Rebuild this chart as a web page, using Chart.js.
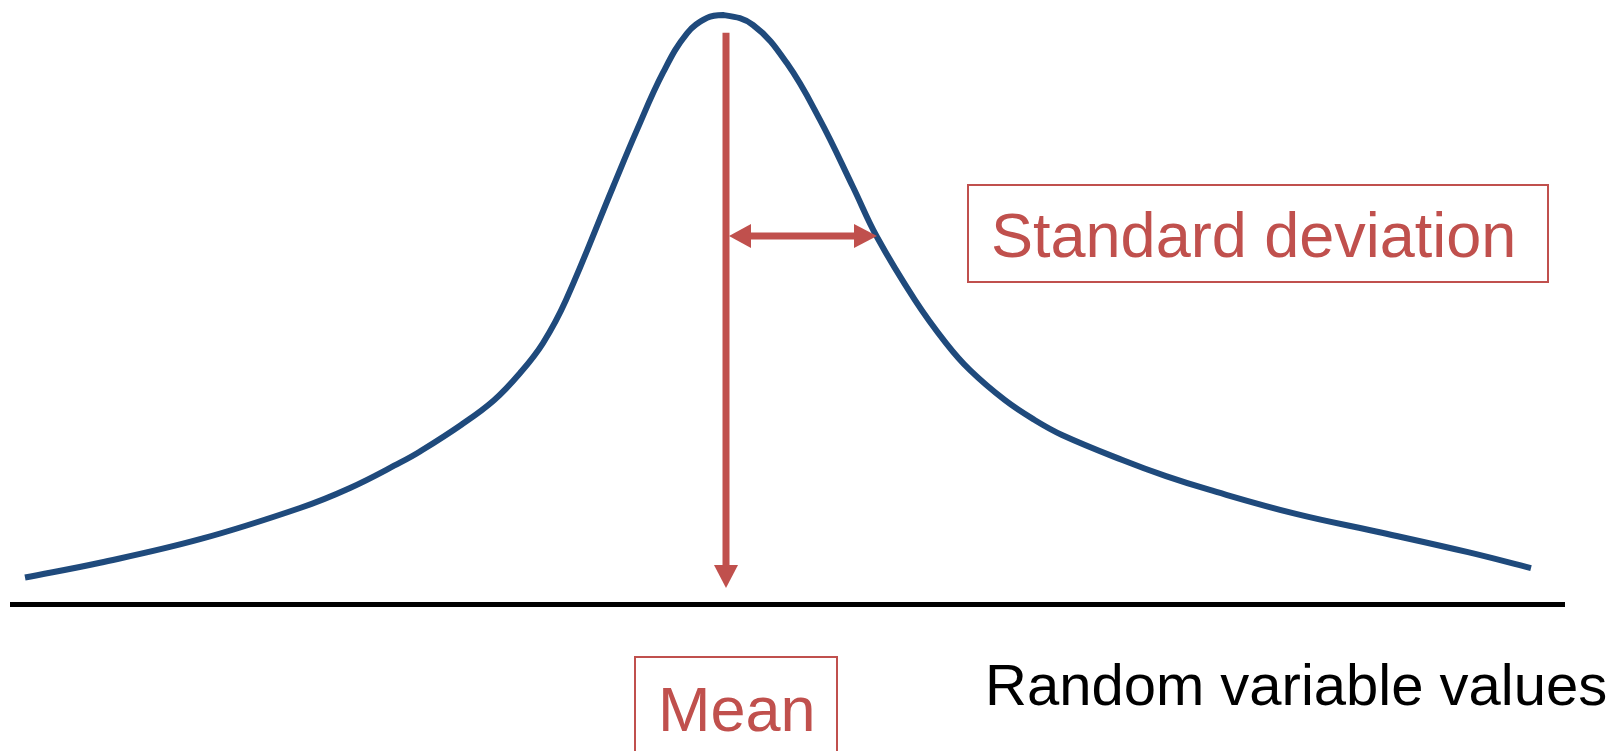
<!DOCTYPE html>
<html>
<head>
<meta charset="utf-8">
<script src="https://cdn.jsdelivr.net/npm/chart.js@4.4.1/dist/chart.umd.min.js"></script>
<style>
  html, body { margin: 0; padding: 0; background: #fff; }
  #wrap { width: 1624px; height: 751px; }
</style>
</head>
<body>
<div id="wrap"><canvas id="chart" width="1624" height="751"></canvas></div>
<script>
// --- DATA ---
// x: random variable value, mean at 0; y: relative density, peak = 1
const curveX = [-7.01, -6.26, -5.26, -4.26, -3.76, -3.26, -3.06, -2.65, -2.32, -2.06, -1.83, -1.60, -1.13, -0.89, -0.63, -0.39, -0.19, -0.03,
                0.27, 0.61, 0.94, 1.27, 1.51, 1.89, 2.20, 2.44, 2.79, 3.09, 3.36, 3.97, 4.40, 4.83, 5.70, 6.56, 7.42, 8.05];
const curveY = [0.045, 0.070, 0.110, 0.163, 0.197, 0.240, 0.259, 0.304, 0.346, 0.392, 0.443, 0.516, 0.708, 0.805, 0.902, 0.969, 0.995, 1.000,
                0.983, 0.918, 0.822, 0.708, 0.623, 0.516, 0.443, 0.397, 0.346, 0.312, 0.287, 0.244, 0.217, 0.194, 0.153, 0.121, 0.088, 0.061];
const xRange = [-7.14, 8.38];
const meanValue = 0;
const sdValue = 1.51;   // where the arrow meets the curve
const sdLevel = 0.625;  // height of the standard deviation arrow
const meanLabel = 'Mean';
const sdLabel = 'Standard deviation';
const axisLabel = 'Random variable values';

const RED = '#C0504D';
const BLUE = '#1F4A7C';
const FONT = '"Liberation Sans", Arial, sans-serif';

function arrowHead(ctx, tipX, tipY, dx, dy, len, half) {
  // dx,dy: unit direction the arrow points to
  const bx = tipX - dx * len, by = tipY - dy * len;
  ctx.beginPath();
  ctx.moveTo(tipX, tipY);
  ctx.lineTo(bx - dy * half, by + dx * half);
  ctx.lineTo(bx + dy * half, by - dx * half);
  ctx.closePath();
  ctx.fill();
}

// annotations: mean arrow, sd arrow, label boxes
const annotations = {
  id: 'annotations',
  afterDatasetsDraw(chart) {
    const { ctx, scales: { x, y } } = chart;
    const mx = x.getPixelForValue(meanValue);
    const base = y.getPixelForValue(0);
    ctx.save();
    ctx.fillStyle = RED;
    ctx.strokeStyle = RED;

    // mean arrow
    const tipY = base - 16;
    ctx.lineWidth = 7;
    ctx.beginPath();
    ctx.moveTo(mx, y.getPixelForValue(0.97));
    ctx.lineTo(mx, tipY - 22);
    ctx.stroke();
    arrowHead(ctx, mx, tipY, 0, 1, 23, 12);

    // standard deviation double arrow
    const ay = y.getPixelForValue(sdLevel);
    const left = mx + 3, right = x.getPixelForValue(sdValue);
    ctx.beginPath();
    ctx.moveTo(left + 20, ay);
    ctx.lineTo(right - 20, ay);
    ctx.stroke();
    arrowHead(ctx, left, ay, -1, 0, 22, 12);
    arrowHead(ctx, right, ay, 1, 0, 23, 12);

    // boxes
    ctx.lineWidth = 2;
    ctx.strokeRect(968, 185, 580, 97);
    ctx.strokeRect(mx - 91, 657, 202, 120);

    ctx.textBaseline = 'alphabetic';
    ctx.textAlign = 'left';
    ctx.font = '63px ' + FONT;
    ctx.fillText(sdLabel, 991, 257);
    ctx.fillText(meanLabel, mx - 68, 731);

    ctx.fillStyle = '#000';
    ctx.font = '58px ' + FONT;
    ctx.fillText(axisLabel, 985, 705);
    ctx.restore();
  }
};

new Chart(document.getElementById('chart'), {
  type: 'line',
  data: {
    datasets: [{
      data: curveX.map((v, i) => ({ x: v, y: curveY[i] })),
      borderColor: BLUE,
      borderWidth: 6,
      pointRadius: 0,
      tension: 0.4,
      fill: false,
      clip: false
    }]
  },
  options: {
    responsive: false,
    animation: false,
    layout: { padding: { left: 12, right: 60, top: 15, bottom: 147 } },
    plugins: { legend: { display: false }, tooltip: { enabled: false } },
    scales: {
      x: {
        type: 'linear', min: xRange[0], max: xRange[1],
        ticks: { display: false },
        grid: { display: false, drawTicks: false },
        border: { display: true, color: '#000', width: 5 }
      },
      y: { display: false, min: 0, max: 1 }
    }
  },
  plugins: [annotations]
});
</script>
</body>
</html>
